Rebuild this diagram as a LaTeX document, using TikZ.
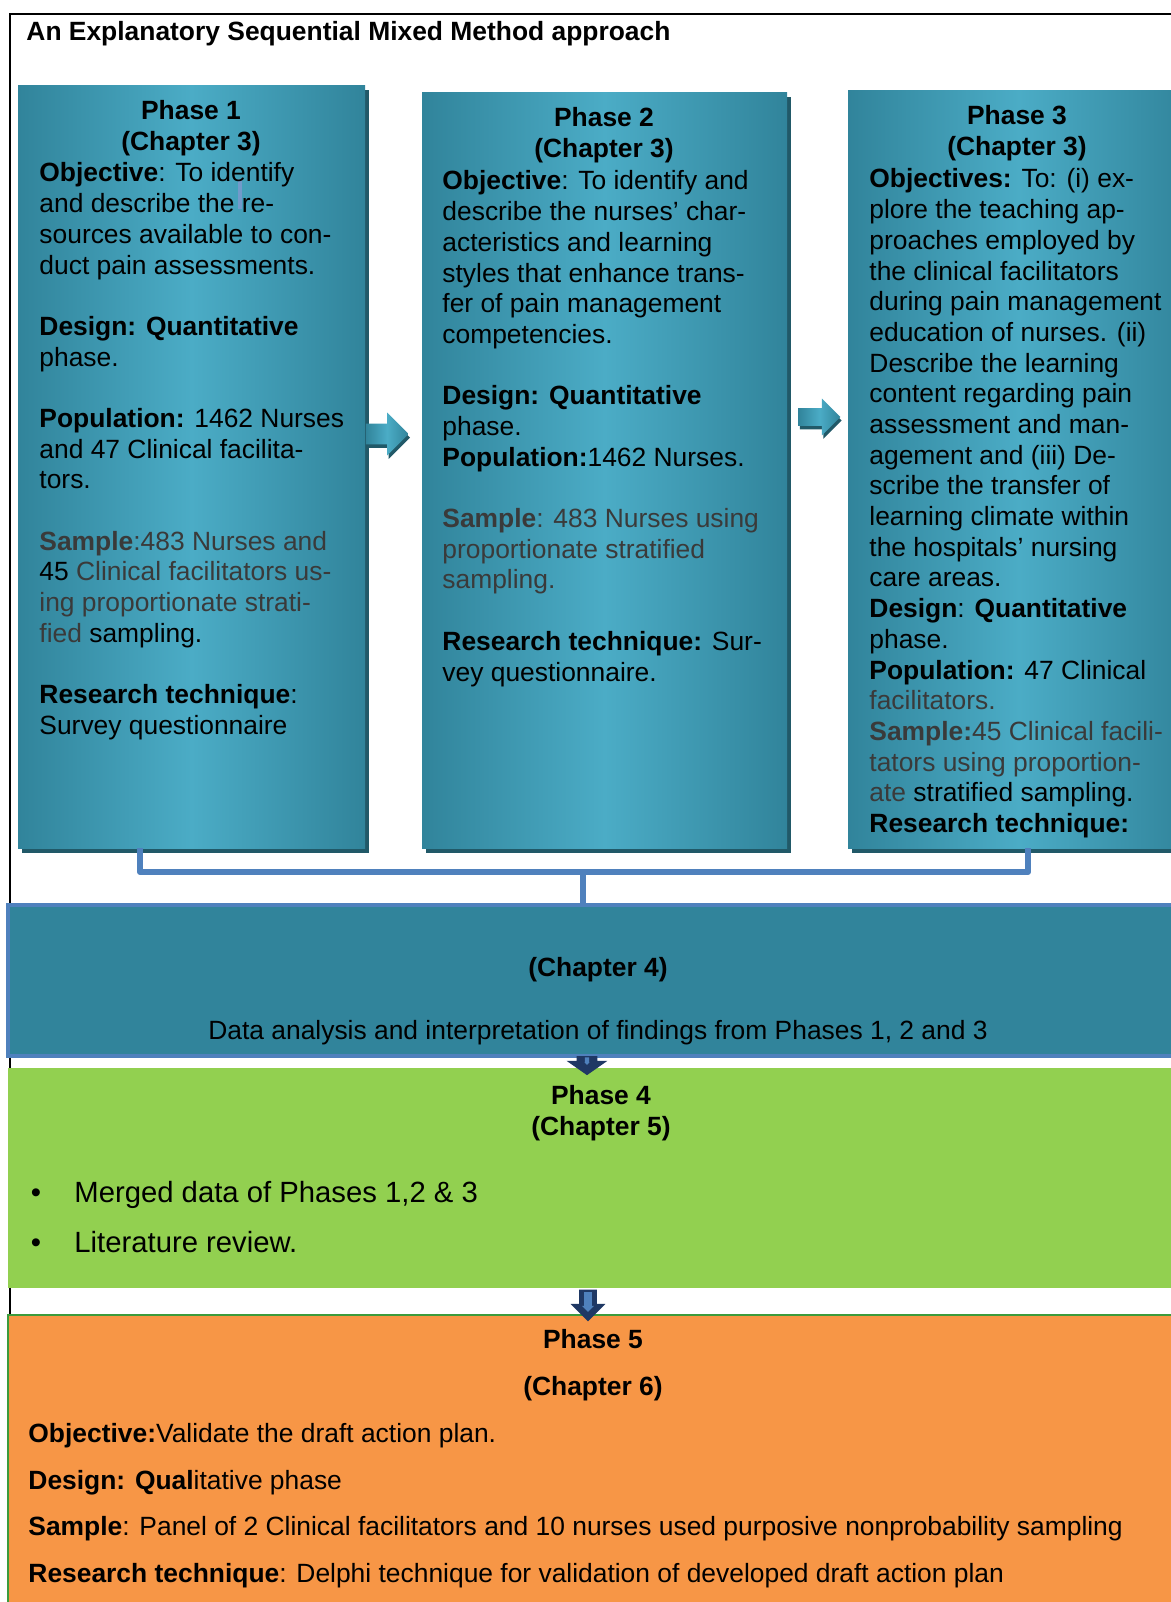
\documentclass[tikz,border=0pt]{standalone}
\usepackage{fontspec}
\setmainfont{Liberation Sans}
\usetikzlibrary{shapes.arrows, fit, shadows}

\definecolor{tealD}{HTML}{31849B}
\definecolor{tealL}{HTML}{4BACC6}
\definecolor{tealS}{HTML}{215968}
\definecolor{lineblue}{HTML}{4F81BD}
\definecolor{navy}{HTML}{1F3864}
\definecolor{phasegreen}{HTML}{92D050}
\definecolor{phaseorange}{HTML}{F79646}
\definecolor{edgegreen}{HTML}{3C9B3C}
\definecolor{txtg}{HTML}{3A3A3A}

\begin{document}
\begin{tikzpicture}[
	x=0.4545pt, y=-0.4545pt,
	every node/.style={inner sep=0pt, font=\fontsize{12}{13.95}\selectfont},
	phasebox/.style={left color=tealD, right color=tealD, middle color=tealL,
		general shadow={fill=tealS, shadow xshift=2pt, shadow yshift=-2.3pt}},
	title/.style={align=center, anchor=north, font=\fontsize{12}{13.95}\selectfont\bfseries},
	body/.style={align=left, anchor=north west},
	bracket/.style={lineblue, line width=2.7pt, line join=round},
	rarrow/.style={single arrow, inner xsep=0pt, left color=tealD, right color=tealD, middle color=tealL,
		general shadow={fill=tealS, shadow xshift=0.6pt, shadow yshift=-1.6pt}},
	downarrow/.style={single arrow, shape border rotate=270, inner ysep=0pt, fill=navy},
	innerarrow/.style={single arrow, shape border rotate=270, inner ysep=0pt, fill=lineblue},
	frame/.style={line width=0.9pt},
	bullet/.style={font=\fontsize{13.3}{16}\selectfont}
	]

	\useasboundingbox (0,0) rectangle (1171,1602);
	\fill[white] (0,0) rectangle (1171,1602);
	\draw[frame] (1171,14) -| (10,1315);

	\node[anchor=base west, font=\fontsize{12}{13.95}\selectfont\bfseries] (heading) at (26,40) {An Explanatory Sequential Mixed Method approach};

	% three phases
	\node[phasebox, fit={(18,85) (365,848)}] (p1) {};
	\node[phasebox, fit={(422,92) (787,848)}] (p2) {};
	\node[phasebox, fit={(848,90) (1190,848)}] (p3) {};
	\draw[lineblue!80, line width=1.4pt] (240,179) -- (240,209);

	\node[title] (p1t) at (191,98) {\strut Phase 1\\(Chapter 3)};
	\node[body] (p1b) at (39,160) {\strut\textbf{Objective}: To identify\\
		and describe the re-\\
		sources available to con-\\
		duct pain assessments.\\[13.95pt]
		\textbf{Design: Quantitative}\\
		phase.\\[13.95pt]
		\textbf{Population:} 1462 Nurses\\
		and 47 Clinical facilita-\\
		tors.\\[13.95pt]
		\textcolor{txtg}{\textbf{Sample}:483 Nurses and}\\
		45 \textcolor{txtg}{Clinical facilitators us-}\\
		\textcolor{txtg}{ing proportionate strati-}\\
		\textcolor{txtg}{fied} sampling.\\[13.95pt]
		\textbf{Research technique}:\\
		Survey questionnaire};

	\node[title] (p2t) at (604,105) {\strut Phase 2\\(Chapter 3)};
	\node[body] (p2b) at (442,168) {\strut\textbf{Objective}: To identify and\\
		describe the nurses’ char-\\
		acteristics and learning\\
		styles that enhance trans-\\
		fer of pain management\\
		competencies.\\[13.95pt]
		\textbf{Design: Quantitative}\\
		phase.\\
		\textbf{Population:}1462 Nurses.\\[13.95pt]
		\textcolor{txtg}{\textbf{Sample}: 483 Nurses using}\\
		\textcolor{txtg}{proportionate stratified}\\
		\textcolor{txtg}{sampling.}\\[13.95pt]
		\textbf{Research technique:} Sur-\\
		vey questionnaire.};

	\node[title] (p3t) at (1017,103) {\strut Phase 3\\(Chapter 3)};
	\node[body] (p3b) at (869,166) {\strut\textbf{Objectives:} To: (i) ex-\\
		plore the teaching ap-\\
		proaches employed by\\
		the clinical facilitators\\
		during pain management\\
		education of nurses. (ii)\\
		Describe the learning\\
		content regarding pain\\
		assessment and man-\\
		agement and (iii) De-\\
		scribe the transfer of\\
		learning climate within\\
		the hospitals’ nursing\\
		care areas.\\
		\textbf{Design}: \textbf{Quantitative}\\
		phase.\\
		\textbf{Population:} 47 Clinical\\
		\textcolor{txtg}{facilitators.}\\
		\textcolor{txtg}{\textbf{Sample:}45 Clinical facili-}\\
		\textcolor{txtg}{tators using proportion-}\\
		\textcolor{txtg}{ate} stratified sampling.\\
		\textbf{Research technique:}};

	\node[rarrow, inner ysep=4.55pt, minimum width=19pt, minimum height=19.5pt, single arrow head extend=5pt] (a12) at (382,434) {};
	\node[rarrow, inner ysep=3.85pt, minimum width=16.4pt, minimum height=19pt, single arrow head extend=4.3pt] (a23) at (815,417) {};

	% bracket into chapter 4
	\coordinate (bl) at (140,872);
	\coordinate (br) at (1028,872);
	\coordinate (bm) at (583,872);
	\draw[bracket] (bl |- p1.south) -- (bl) -- (br) -- (br |- p3.south);

	\node[fill=tealD, draw=lineblue, line width=1.4pt, fit={(8,905) (1190,1056)}] (ch4) {};
	\draw[bracket] (bm) -- (bm |- ch4.north);
	\node[anchor=base, font=\fontsize{12}{13.95}\selectfont\bfseries] (ch4t) at (598,976) {(Chapter 4)};
	\node[anchor=base] (ch4d) at (598,1039) {Data analysis and interpretation of findings from Phases 1, 2 and 3};

	% phase 4
	\node[fill=phasegreen, fit={(8,1068) (1190,1288)}] (p4) {};
	\node[downarrow, inner xsep=4.55pt, minimum width=18.2pt, minimum height=8.6pt, single arrow head extend=4.5pt, single arrow tip angle=110] (a34) at (587,1062) {};
	\node[innerarrow, inner xsep=0.8pt, minimum width=2.4pt, minimum height=3.5pt, single arrow head extend=0.2pt] (a34i) at (587,1060) {};
	\node[title] (p4t) at (601,1083) {\strut Phase 4\\(Chapter 5)};
	\node[bullet, anchor=base] (b1) at (36,1202) {•};
	\node[bullet, anchor=base west] (l1) at (74,1202) {Merged data of Phases 1,2 \& 3};
	\node[bullet, anchor=base] (b2) at (36,1252) {•};
	\node[bullet, anchor=base west] (l2) at (74,1252) {Literature review.};

	% phase 5
	\node[fill=phaseorange, draw=edgegreen, line width=0.6pt, fit={(8,1315) (1190,1620)}] (p5) {};
	\node[downarrow, inner xsep=3.85pt, minimum width=15.5pt, minimum height=14.5pt, single arrow head extend=3.9pt] (a45) at (588,1301) {};
	\node[innerarrow, inner xsep=1.6pt, minimum width=5pt, minimum height=9pt, single arrow head extend=0.9pt] (a45i) at (588,1300) {};
	\node[title, font=\fontsize{12}{21.3}\selectfont\bfseries] (p5t) at (593,1315) {\strut Phase 5\\(Chapter 6)};
	\node[body, font=\fontsize{12}{21.3}\selectfont] (p5b) at (28,1409) {\strut\textbf{Objective:}Validate the draft action plan.\\
		\textbf{Design: Qual}itative phase\\
		\textbf{Sample}: Panel of 2 Clinical facilitators and 10 nurses used purposive nonprobability sampling\\
		\textbf{Research technique}: Delphi technique for validation of developed draft action plan};

\end{tikzpicture}
\end{document}
